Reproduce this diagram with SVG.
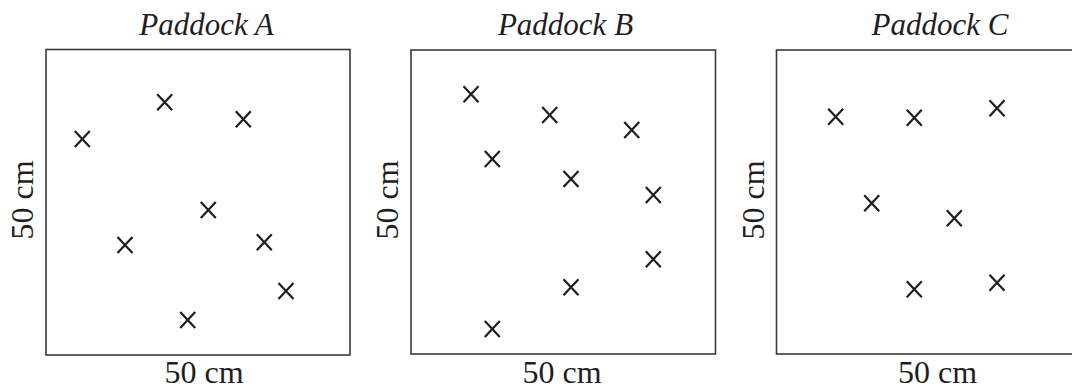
<svg xmlns="http://www.w3.org/2000/svg" width="1072" height="390" viewBox="0 0 1072 390">
<defs>
<style>
.box{fill:none;stroke:#3a3a3a;stroke-width:1.6}
.x{stroke:#1e1e1e;stroke-width:2.2;fill:none}
.t{font-family:"Liberation Serif",serif;font-size:32px;fill:#1e1e1e;text-anchor:middle}
.ti{font-style:italic;font-size:31px}
</style>
<path id="cr" class="x" d="M-7.5,-8 L7.5,8 M-7.5,8 L7.5,-8"/>
</defs>
<rect width="1072" height="390" fill="#fff"/>
<g id="paddockA">
<text class="t ti" x="206.5" y="35">Paddock A</text>
<rect class="box" x="46" y="49.5" width="304" height="305.5"/>
<text class="t" x="204" y="383">50 cm</text>
<text class="t" transform="translate(33,200) rotate(-90)">50 cm</text>
<use href="#cr" x="82.3" y="139"/>
<use href="#cr" x="164.7" y="102.3"/>
<use href="#cr" x="243.3" y="119.3"/>
<use href="#cr" x="208.3" y="210"/>
<use href="#cr" x="125" y="245"/>
<use href="#cr" x="264.3" y="242.3"/>
<use href="#cr" x="286" y="291"/>
<use href="#cr" x="187.7" y="320"/>
</g>
<g id="paddockB">
<text class="t ti" x="565.5" y="35">Paddock B</text>
<rect class="box" x="411" y="50" width="304.5" height="304"/>
<text class="t" x="562" y="383">50 cm</text>
<text class="t" transform="translate(398,200) rotate(-90)">50 cm</text>
<use href="#cr" x="471" y="94.3"/>
<use href="#cr" x="549.7" y="115"/>
<use href="#cr" x="631.7" y="130"/>
<use href="#cr" x="492.3" y="159"/>
<use href="#cr" x="571" y="179"/>
<use href="#cr" x="653.3" y="195"/>
<use href="#cr" x="653.3" y="259.3"/>
<use href="#cr" x="571" y="287.3"/>
<use href="#cr" x="492.3" y="329"/>
</g>
<g id="paddockC">
<text class="t ti" x="940" y="35">Paddock C</text>
<rect class="box" x="776.5" y="50" width="304" height="304"/>
<text class="t" x="937.5" y="383">50 cm</text>
<text class="t" transform="translate(764,200) rotate(-90)">50 cm</text>
<use href="#cr" x="835.7" y="116.7"/>
<use href="#cr" x="914.3" y="117.7"/>
<use href="#cr" x="997" y="108.3"/>
<use href="#cr" x="871.7" y="203.3"/>
<use href="#cr" x="954.3" y="218.3"/>
<use href="#cr" x="914.3" y="289.3"/>
<use href="#cr" x="997" y="282.7"/>
</g>
<g id="connectors"></g>
</svg>
